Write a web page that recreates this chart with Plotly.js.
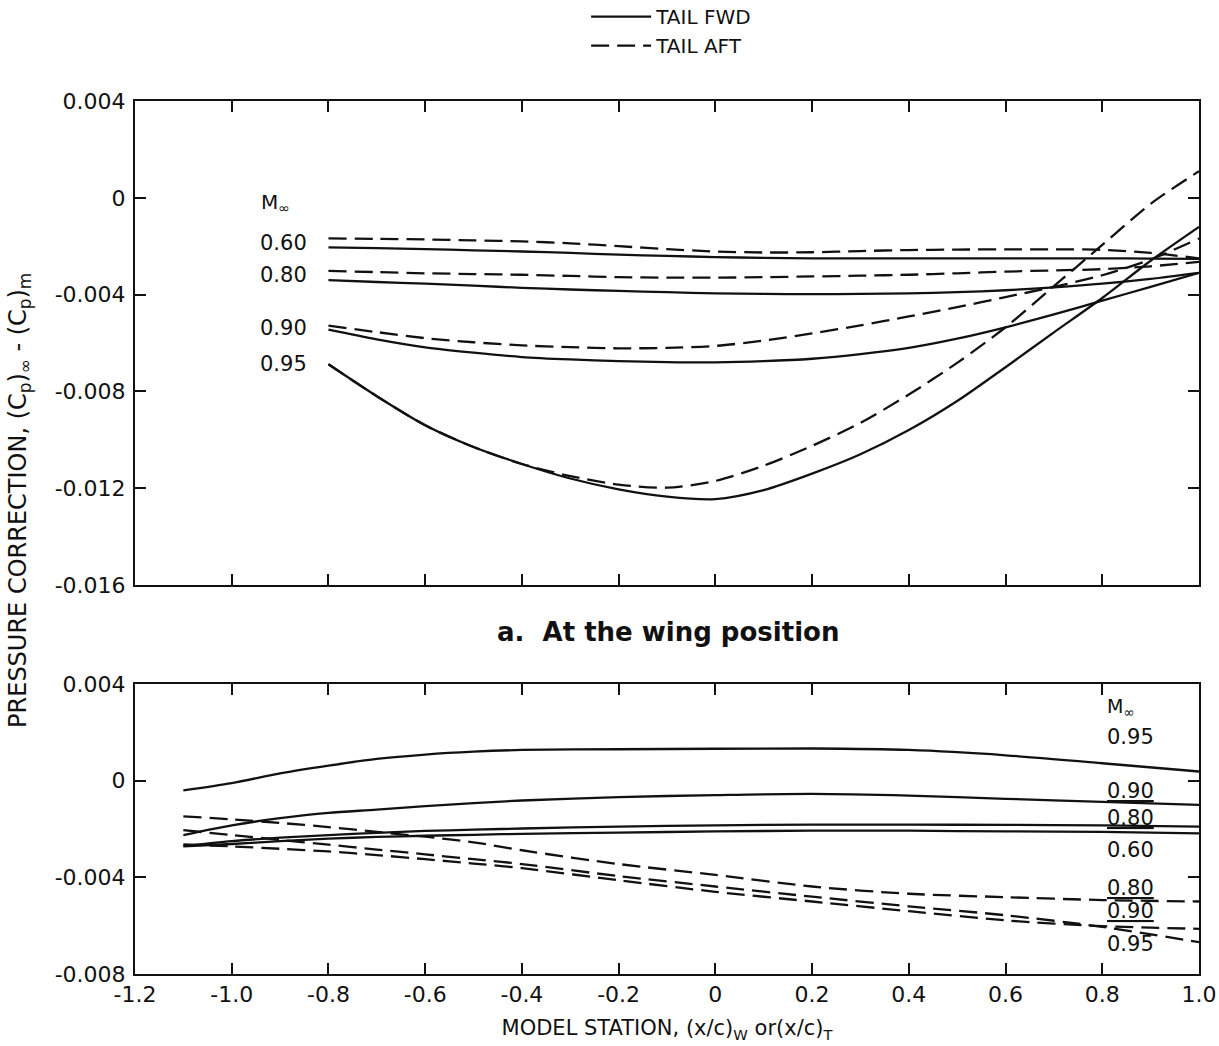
<!DOCTYPE html>
<html>
<head>
<meta charset="utf-8">
<script src="https://cdn.plot.ly/plotly-3.0.1.min.js"></script>
<style>
  html, body { margin: 0; padding: 0; background: #ffffff; }
  #chart { width: 1219px; height: 1046px; }
</style>
</head>
<body>
<div id="chart"></div>
<script>
// ---------------- DATA ----------------
// Upper panel: a. At the wing position
const xWing = [-0.8, -0.7, -0.6, -0.5, -0.4, -0.3, -0.2, -0.1, 0, 0.1, 0.2, 0.3, 0.4, 0.5, 0.6, 0.7, 0.8, 0.9, 1.0];
const wing060Fwd = [-0.00205, -0.00208, -0.00212, -0.00217, -0.00222, -0.00228, -0.00235, -0.00240, -0.00245, -0.00248, -0.00250, -0.00250, -0.00250, -0.00250, -0.00250, -0.00250, -0.00250, -0.00251, -0.00252];
const wing060Aft = [-0.00168, -0.00170, -0.00172, -0.00176, -0.00180, -0.00188, -0.00200, -0.00212, -0.00222, -0.00226, -0.00225, -0.00220, -0.00216, -0.00214, -0.00213, -0.00213, -0.00215, -0.00228, -0.00250];
const wing080Fwd = [-0.00340, -0.00348, -0.00355, -0.00363, -0.00372, -0.00379, -0.00385, -0.00390, -0.00395, -0.00397, -0.00398, -0.00397, -0.00395, -0.00390, -0.00382, -0.00370, -0.00355, -0.00335, -0.00310];
const wing080Aft = [-0.00302, -0.00307, -0.00312, -0.00315, -0.00318, -0.00323, -0.00328, -0.00330, -0.00330, -0.00328, -0.00325, -0.00322, -0.00318, -0.00312, -0.00305, -0.00300, -0.00295, -0.00283, -0.00265];
const wing090Fwd = [-0.00545, -0.00585, -0.00618, -0.00640, -0.00658, -0.00668, -0.00675, -0.00679, -0.00680, -0.00675, -0.00665, -0.00646, -0.00620, -0.00582, -0.00535, -0.00482, -0.00425, -0.00368, -0.00310];
const wing090Aft = [-0.00528, -0.00555, -0.00580, -0.00597, -0.00610, -0.00617, -0.00622, -0.00620, -0.00612, -0.00590, -0.00560, -0.00527, -0.00490, -0.00452, -0.00410, -0.00368, -0.00320, -0.00255, -0.00168];
const wing095Fwd = [-0.00688, -0.00820, -0.00940, -0.01030, -0.01100, -0.01160, -0.01205, -0.01235, -0.01245, -0.01208, -0.01140, -0.01060, -0.00960, -0.00840, -0.00700, -0.00556, -0.00414, -0.00260, -0.00120];
const wing095Aft = [-0.00688, -0.00820, -0.00940, -0.01030, -0.01100, -0.01150, -0.01185, -0.01198, -0.01170, -0.01107, -0.01025, -0.00930, -0.00813, -0.00682, -0.00535, -0.00365, -0.00195, -0.00025, 0.00110];

// Lower panel: at the tail position
const xTail = [-1.1, -1.0, -0.9, -0.8, -0.7, -0.6, -0.5, -0.4, -0.2, 0, 0.2, 0.4, 0.6, 0.8, 1.0];
const tail095Fwd = [-0.00040, -0.00010, 0.00030, 0.00062, 0.00090, 0.00108, 0.00120, 0.00127, 0.00130, 0.00132, 0.00133, 0.00127, 0.00105, 0.00072, 0.00038];
const tail090Fwd = [-0.00225, -0.00185, -0.00155, -0.00133, -0.00120, -0.00105, -0.00093, -0.00082, -0.00068, -0.00060, -0.00055, -0.00062, -0.00075, -0.00088, -0.00100];
const tail080Fwd = [-0.00270, -0.00250, -0.00236, -0.00225, -0.00216, -0.00208, -0.00203, -0.00198, -0.00190, -0.00185, -0.00182, -0.00182, -0.00183, -0.00185, -0.00190];
const tail060Fwd = [-0.00272, -0.00262, -0.00250, -0.00240, -0.00233, -0.00228, -0.00224, -0.00220, -0.00215, -0.00210, -0.00207, -0.00207, -0.00210, -0.00212, -0.00218];
const tail080Aft = [-0.00148, -0.00160, -0.00175, -0.00192, -0.00212, -0.00232, -0.00255, -0.00288, -0.00345, -0.00390, -0.00438, -0.00468, -0.00482, -0.00494, -0.00500];
const tail090Aft = [-0.00264, -0.00272, -0.00282, -0.00293, -0.00308, -0.00325, -0.00343, -0.00362, -0.00412, -0.00460, -0.00500, -0.00540, -0.00578, -0.00602, -0.00613];
const tail095Aft = [-0.00205, -0.00225, -0.00245, -0.00265, -0.00285, -0.00305, -0.00325, -0.00345, -0.00395, -0.00438, -0.00480, -0.00520, -0.00557, -0.00605, -0.00668];

// Tick labels
const xTickVals = [-1.2, -1.0, -0.8, -0.6, -0.4, -0.2, 0, 0.2, 0.4, 0.6, 0.8, 1.0];
const xTickText = ["-1.2", "-1.0", "-0.8", "-0.6", "-0.4", "-0.2", "0", "0.2", "0.4", "0.6", "0.8", "1.0"];
const yWingVals = [0.004, 0, -0.004, -0.008, -0.012, -0.016];
const yWingText = ["0.004", "0", "-0.004", "-0.008", "-0.012", "-0.016"];
const yTailVals = [0.004, 0, -0.004, -0.008];
const yTailText = ["0.004", "0", "-0.004", "-0.008"];

// Mach numbers and series names
const machLabels = ["0.60", "0.80", "0.90", "0.95"];
const seriesNames = ["TAIL FWD", "TAIL AFT"];
const tailLabelTexts = ["M<sub>∞</sub>", "0.95", "<u>0.90</u>", "<u>0.80</u>", "0.60", "<u>0.80</u>", "<u>0.90</u>", "0.95"];

// ---------------- STYLE ----------------
const FONT = "DejaVu Sans, Liberation Sans, sans-serif";
const LW = 2.3;
const DASH = "18px,8px";
const solid = { color: "#111111", width: LW, shape: "spline", smoothing: 0.8 };
const dashed = { color: "#111111", width: LW, shape: "spline", smoothing: 0.8, dash: DASH };

function tr(x, y, line, xa, ya, name, legend) {
  return {
    type: "scatter", mode: "lines", x: x, y: y, line: line,
    xaxis: xa, yaxis: ya, name: name, legendgroup: name,
    showlegend: !!legend, hoverinfo: "skip"
  };
}

const wingFwd = [wing060Fwd, wing080Fwd, wing090Fwd, wing095Fwd];
const wingAft = [wing060Aft, wing080Aft, wing090Aft, wing095Aft];
const tailFwd = [tail060Fwd, tail080Fwd, tail090Fwd, tail095Fwd];
const tailAft = [tail080Aft, tail090Aft, tail095Aft];

const traces = [];
wingFwd.forEach((ys, i) => traces.push(tr(xWing, ys, solid, "x", "y", seriesNames[0], i === 0)));
wingAft.forEach((ys, i) => traces.push(tr(xWing, ys, dashed, "x", "y", seriesNames[1], i === 0)));
tailFwd.forEach(ys => traces.push(tr(xTail, ys, solid, "x2", "y2", seriesNames[0], false)));
tailAft.forEach(ys => traces.push(tr(xTail, ys, dashed, "x2", "y2", seriesNames[1], false)));

// ---------------- AXES ----------------
const tickFont = { family: FONT, size: 22, color: "#111111" };
function xAxis(showLabels, anchor) {
  return {
    range: [-1.2, 1.0], anchor: anchor,
    tickmode: "array", tickvals: xTickVals, ticktext: xTickText,
    showticklabels: showLabels, tickfont: tickFont,
    ticks: "inside", ticklen: 11, tickwidth: 2, tickcolor: "#111111",
    showline: true, linecolor: "#111111", linewidth: 2, mirror: "ticks",
    showgrid: false, zeroline: false, fixedrange: true, automargin: false
  };
}
function yAxis(range, vals, text, domain, anchor) {
  return {
    range: range, domain: domain, anchor: anchor,
    tickmode: "array", tickvals: vals, ticktext: text,
    tickfont: tickFont, ticklabelstandoff: 3,
    ticks: "inside", ticklen: 11, tickwidth: 2, tickcolor: "#111111",
    showline: true, linecolor: "#111111", linewidth: 2, mirror: "ticks",
    showgrid: false, zeroline: false, fixedrange: true, automargin: false
  };
}

// ---------------- ANNOTATIONS ----------------
const annFont = { family: FONT, size: 21, color: "#111111" };
const annotations = [];

// Mach labels at the start of the wing-position curves
const wingStartsFwd = wingFwd.map(a => a[0]);
const wingStartsAft = wingAft.map(a => a[0]);
machLabels.forEach((lab, i) => {
  annotations.push({
    xref: "x", yref: "y", x: -0.84, y: (wingStartsFwd[i] + wingStartsAft[i]) / 2,
    text: lab, showarrow: false, xanchor: "right", yanchor: "middle", font: annFont
  });
});
annotations.push({
  xref: "x", yref: "y", x: -0.875, y: -0.0002,
  text: "M<sub>∞</sub>", showarrow: false, xanchor: "right", yanchor: "middle",
  font: { family: FONT, size: 20, color: "#111111" }
});

// Mach labels at the right of the tail-position curves
const tailLabelY = [0.00301, 0.00181, -0.00041, -0.00153, -0.00289, -0.00445, -0.0054, -0.00676];
tailLabelTexts.forEach((t, i) => {
  annotations.push({
    xref: "x2", yref: "y2", x: 0.805, y: tailLabelY[i],
    text: t, showarrow: false, xanchor: "left", yanchor: "middle",
    font: { family: FONT, size: i === 0 ? 19 : 21, color: "#111111" }
  });
});

// Panel caption
annotations.push({
  xref: "paper", yref: "paper", x: 0.501, y: 0.392,
  text: "<b>a.  At the wing position</b>", showarrow: false,
  xanchor: "center", yanchor: "middle",
  font: { family: FONT, size: 26, color: "#111111" }
});

// Common y-axis title
annotations.push({
  xref: "paper", yref: "paper", x: -0.108, y: 0.542,
  text: "PRESSURE CORRECTION, (C<sub>p</sub>)<sub>∞</sub> - (C<sub>p</sub>)<sub>m</sub>",
  textangle: -90, showarrow: false, xanchor: "center", yanchor: "middle",
  font: { family: FONT, size: 24, color: "#111111" }
});

const layout = {
  width: 1219, height: 1046,
  paper_bgcolor: "#ffffff", plot_bgcolor: "#ffffff",
  margin: { l: 135, r: 20, t: 101, b: 72, autoexpand: false },
  showlegend: true,
  legend: {
    x: 0.424, y: 1.080, xanchor: "left", yanchor: "middle",
    font: { family: FONT, size: 20, color: "#111111" },
    bgcolor: "rgba(0,0,0,0)", itemwidth: 60, tracegroupgap: 0,
    itemclick: false, itemdoubleclick: false
  },
  xaxis: xAxis(false, "y"),
  yaxis: yAxis([-0.016, 0.004], yWingVals, yWingText, [0.4456, 1], "x"),
  xaxis2: Object.assign(xAxis(true, "y2"), {
    title: { text: "MODEL STATION, (x/c)<sub>W</sub> or(x/c)<sub>T</sub>", font: { family: FONT, size: 21, color: "#111111" }, standoff: 14 }
  }),
  yaxis2: yAxis([-0.008, 0.004], yTailVals, yTailText, [0, 0.3322], "x2"),
  annotations: annotations
};

Plotly.newPlot("chart", traces, layout, { displayModeBar: false, staticPlot: true });
</script>
</body>
</html>
